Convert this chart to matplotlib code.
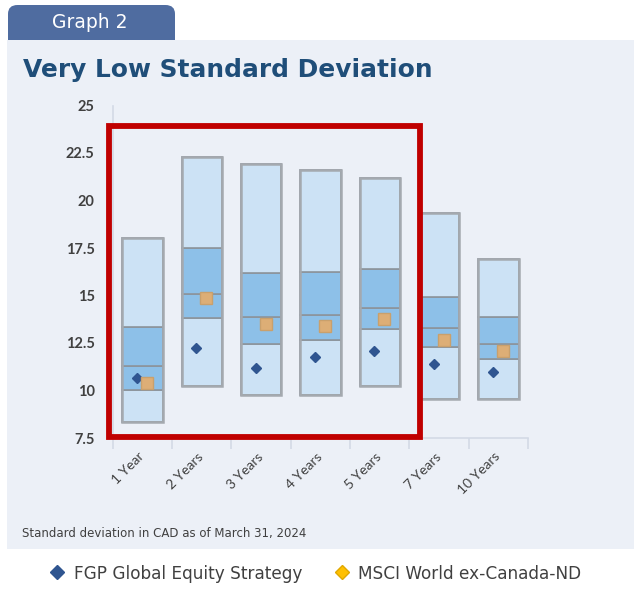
import matplotlib
matplotlib.use("Agg")
import matplotlib.pyplot as plt
from matplotlib.patches import Rectangle, FancyBboxPatch
from matplotlib.lines import Line2D

# ==========================================================
# DATA
# ==========================================================

periods = ["1 Year", "2 Years", "3 Years", "4 Years", "5 Years", "7 Years", "10 Years"]

# range boundaries, bottom to top
p_low = [8.35, 10.26, 9.77, 9.77, 10.25, 9.54, 9.54]
p_q1 = [10.05, 13.79, 12.45, 12.68, 13.26, 12.29, 11.67]
p_med = [11.27, 15.10, 13.88, 14.00, 14.35, 13.27, 12.47]
p_q3 = [13.35, 17.48, 16.20, 16.25, 16.37, 14.93, 13.88]
p_high = [18.00, 22.28, 21.92, 21.62, 21.18, 19.33, 16.94]

fgp_values = [10.65, 12.24, 11.18, 11.76, 12.06, 11.41, 11.00]
msci_values = [10.42, 14.88, 13.52, 13.42, 13.77, 12.68, 12.06]

y_ticks = [7.5, 10, 12.5, 15, 17.5, 20, 22.5, 25]
y_tick_labels = ["7.5", "10", "12.5", "15", "17.5", "20", "22.5", "25"]

# ==========================================================
# STYLE
# ==========================================================

W, H = 634, 590
PANEL = "#ECF0F7"
TAB = "#4F6CA0"
TITLE = "#1F4E79"
LIGHT = "#CCE2F5"
MID = "#8DC0E8"
EDGE = "#8C949C"
OUTER = "#A4A9AF"
RED = "#C00000"
DIAMOND = "#2F5590"
SQUARE = "#DDAE76"
SQUARE_EDGE = "#C9A06C"
GOLD = "#FFC000"
TEXT = "#404040"
AXIS = "#D3DAE6"

plt.rcParams["font.family"] = ["DejaVu Sans"]
TICK_FONT = ["Lato", "DejaVu Sans"]

fig = plt.figure(figsize=(W / 100, H / 100), dpi=100)
fig.patch.set_facecolor("white")


def fx(px):
    return px / W


def fy(py):
    return 1 - py / H


# tab + panel background
tab = FancyBboxPatch((fx(8), fy(52)), fx(175) - fx(8), fy(5) - fy(52),
                     boxstyle="round,pad=0,rounding_size=0.015",
                     transform=fig.transFigure, facecolor=TAB,
                     edgecolor="none", zorder=0)
fig.add_artist(tab)
panel = Rectangle((fx(7), fy(549)), fx(634) - fx(7), fy(40) - fy(549),
                  transform=fig.transFigure, facecolor=PANEL,
                  edgecolor="none", zorder=0.5)
fig.add_artist(panel)

fig.text(fx(90), fy(22), "Graph 2", color="white", fontsize=13.5,
         ha="center", va="center")
fig.text(fx(23), fy(70), "Very Low Standard Deviation", color=TITLE,
         fontsize=17.9, fontweight="bold", ha="left", va="center")

# ==========================================================
# AXES
# ==========================================================

ax = fig.add_axes([fx(112.7), fy(438), fx(528) - fx(112.7), fy(105.5) - fy(438)])
ax.set_facecolor("none")
ax.set_zorder(2)

x = list(range(len(periods)))
bw = 0.68

bands = [
    (p_low, p_q1, LIGHT),
    (p_q1, p_med, MID),
    (p_med, p_q3, MID),
    (p_q3, p_high, LIGHT),
]
for lo, hi, col in bands:
    ax.bar(x, [h - l for l, h in zip(lo, hi)], bottom=lo, width=bw,
           color=col, edgecolor=EDGE, linewidth=1.2, zorder=2)

# outer outline
ax.bar(x, [h - l for l, h in zip(p_low, p_high)], bottom=p_low, width=bw,
       fill=False, edgecolor=OUTER, linewidth=1.8, zorder=3)

ax.plot([i - 0.09 for i in x], fgp_values, linestyle="none", marker="D",
        markersize=5.5, color=DIAMOND, zorder=4)
ax.plot([i + 0.08 for i in x], msci_values, linestyle="none", marker="s",
        markersize=8, markerfacecolor=SQUARE, markeredgecolor=SQUARE_EDGE,
        markeredgewidth=1, zorder=4)

ax.set_xlim(-0.5, len(periods) - 0.5)
ax.set_ylim(7.5, 25)

ax.set_yticks(y_ticks)
ax.set_yticklabels(y_tick_labels, family=TICK_FONT,
                   fontweight="bold", fontsize=10.5, color=TEXT)
ax.tick_params(axis="y", length=0, pad=13)

ax.set_xticks(x)
ax.set_xticklabels(periods, rotation=45, ha="right", va="center",
                   rotation_mode="anchor", family=TICK_FONT,
                   fontsize=10, color=TEXT)
ax.tick_params(axis="x", length=0, pad=12)
ax.set_xticks([i - 0.5 for i in range(len(periods) + 1)], minor=True)
ax.tick_params(axis="x", which="minor", length=8, color=AXIS, width=1.2)

for side in ["top", "right"]:
    ax.spines[side].set_visible(False)
for side in ["left", "bottom"]:
    ax.spines[side].set_color(AXIS)
    ax.spines[side].set_linewidth(1.2)

# red highlight box around 1-5 years
highlight = Rectangle((-0.562, 7.53), 4.68 + 0.562, 23.93 - 7.53, fill=False,
                      edgecolor=RED, linewidth=4.2, zorder=5, clip_on=False)
ax.add_patch(highlight)

# ==========================================================
# FOOTNOTE + LEGEND
# ==========================================================

fig.text(fx(22), fy(534), "Standard deviation in CAD as of March 31, 2024",
         color=TEXT, fontsize=8.5, ha="left", va="center")

fig.add_artist(Line2D([fx(57)], [fy(572)], marker="D", markersize=7,
                      color=DIAMOND, linestyle="none",
                      transform=fig.transFigure))
fig.text(fx(74), fy(574), "FGP Global Equity Strategy", color=TEXT,
         fontsize=12.2, ha="left", va="center")
fig.add_artist(Line2D([fx(342)], [fy(572)], marker="D", markersize=7,
                      markerfacecolor=GOLD, markeredgecolor="#E0A800",
                      linestyle="none", transform=fig.transFigure))
fig.text(fx(358), fy(574), "MSCI World ex-Canada-ND", color=TEXT,
         fontsize=12.2, ha="left", va="center")

fig.savefig("out.png", dpi=100)
plt.close(fig)
